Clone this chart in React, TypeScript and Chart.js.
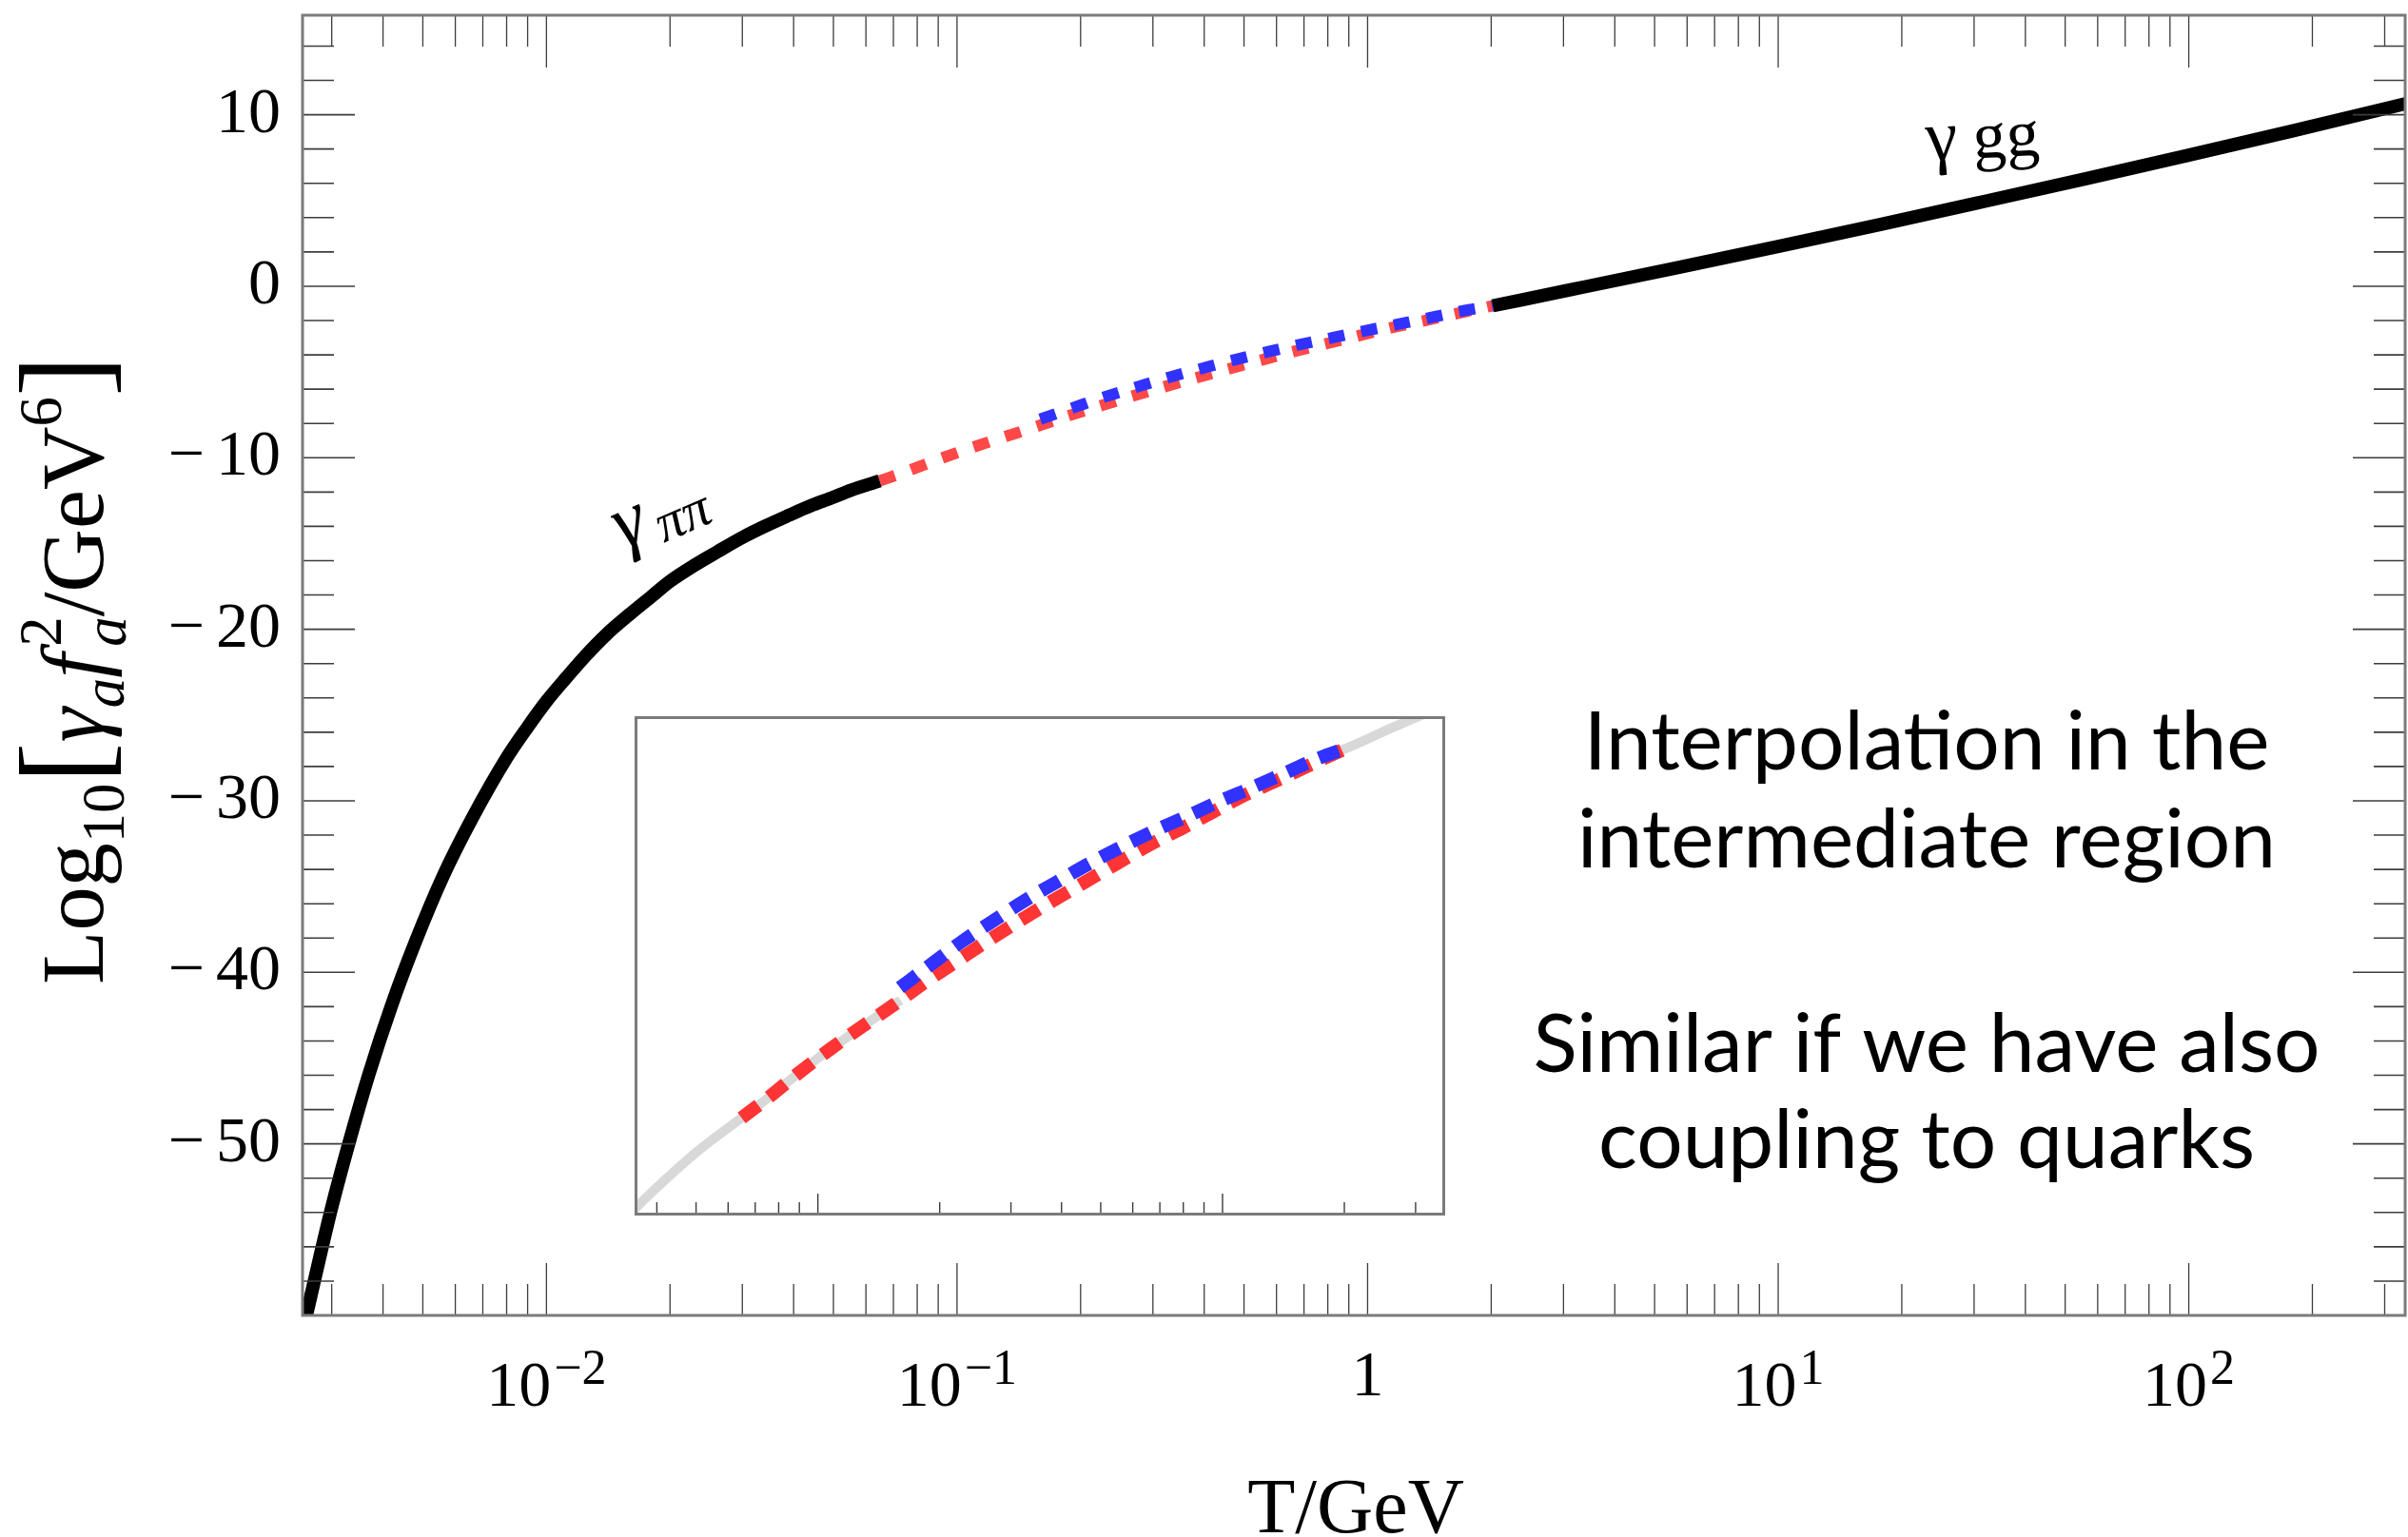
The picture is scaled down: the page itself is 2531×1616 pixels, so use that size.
import React, { useEffect, useRef } from "react";
import { Chart, registerables } from "chart.js";

Chart.register(...registerables);

const W = 2531;
const H = 1616;

// ---------------- data ----------------
// gamma_pipi branch (black, low T)
const gammaPiPiT = [0.00258, 0.0028, 0.003, 0.0033, 0.0037, 0.0042, 0.0048, 0.0056, 0.0066, 0.008, 0.009, 0.01, 0.0112, 0.0125, 0.014, 0.016, 0.018, 0.02, 0.023, 0.026, 0.03, 0.034, 0.039, 0.044, 0.05, 0.055, 0.0648];
const gammaPiPiY = [-60.4, -56.7, -53.7, -50.0, -45.9, -41.9, -38.2, -34.4, -31.0, -27.5, -25.7, -24.2, -22.8, -21.5, -20.3, -19.1, -18.1, -17.2, -16.25, -15.5, -14.65, -14.0, -13.35, -12.8, -12.3, -11.9, -11.35];

// gamma_gg branch (black, high T)
const gammaGGT = [2.018, 3.16, 5.62, 10, 17.8, 31.6, 56.2, 100, 178, 345];
const gammaGGY = [-1.14, -0.18, 1.06, 2.32, 3.61, 4.93, 6.27, 7.64, 9.04, 10.7];

// interpolation 1 (red dashed)
const redT = [0.0648, 0.0753, 0.0899, 0.1073, 0.1282, 0.1552, 0.1853, 0.2212, 0.2643, 0.3198, 0.3819, 0.4561, 0.5446, 0.6592, 0.7996, 0.9419, 1.14, 1.361, 1.671, 2.018];
const redY = [-11.35, -10.8, -10.1, -9.45, -8.84, -8.2, -7.58, -7.01, -6.44, -5.86, -5.34, -4.84, -4.34, -3.81, -3.33, -2.91, -2.42, -2.03, -1.56, -1.14];

// interpolation 2 (blue dashed)
const blueT = [0.1595, 0.1905, 0.2275, 0.2753, 0.3286, 0.3925, 0.4688, 0.5674, 0.6776, 0.8199, 0.979, 1.185, 1.415, 1.713, 2.018];
const blueY = [-7.75, -7.11, -6.47, -5.86, -5.31, -4.81, -4.32, -3.84, -3.42, -3.01, -2.61, -2.22, -1.84, -1.43, -1.14];

// inset: grey reference curves
const insetGrayLowT = [0.03, 0.034, 0.0398, 0.0501, 0.0648, 0.0753, 0.0899, 0.1073, 0.1282, 0.1552, 0.16];
const insetGrayLowY = [-14.7, -14.05, -13.3, -12.3, -11.35, -10.8, -10.1, -9.45, -8.84, -8.2, -8.1];
const insetGrayHighT = [1.9, 2.018, 2.6, 3.16, 3.7];
const insetGrayHighY = [-1.25, -1.14, -0.59, -0.18, 0.15];

// axes
const X_MIN = 0.002547;
const X_MAX = 336.5;
const Y_MIN = -60;
const Y_MAX = 15.8;
const yTickValues = [10, 0, -10, -20, -30, -40, -50];
const xTickValues = [0.01, 0.1, 1, 10, 100];
const xTickBase = ["10", "10", "1", "10", "10"];
const xTickExp = ["\u22122", "\u22121", "", "1", "2"];
const xAxisTitle = "T/GeV";
const annotationLines = ["Interpolation in the", "intermediate region", "Similar if we have also", "coupling to quarks"];

const INSET_X_MIN = 0.03524;
const INSET_X_MAX = 3.55;
const INSET_Y_MIN = -14.05;
const INSET_Y_MAX = -0.25;

// ---------------- layout / style ----------------
const SERIF = "'Liberation Serif', 'Times New Roman', serif";
const SANS = "Lato, 'Open Sans', sans-serif";
const PLOT = { left: 318, top: 16, right: 2528, bottom: 1383 };
const INSET = { left: 667, top: 753, width: 852, height: 525 };
const RED = "#ff4848";
const BLUE = "#3232ff";

function pts(xs: number[], ys: number[]) {
  return xs.map((x, i) => ({ x, y: ys[i] }));
}

type Piece = { t: string; s: number; dy: number; it?: boolean; pad?: number; stack?: Piece[] };

const yTitlePieces: Piece[] = [
  { t: "Log", s: 1, dy: 0 },
  { t: "10", s: 0.68, dy: -0.24 },
  { t: "[", s: 1.4, dy: -0.02 },
  { t: "\u03b3", s: 1, dy: 0, it: true },
  { t: "a", s: 0.68, dy: -0.24, it: true },
  { t: "f", s: 1, dy: 0, it: true, pad: 0.08 },
  { t: "", s: 0.68, dy: 0, stack: [{ t: "2", s: 0.68, dy: 0.48 }, { t: "a", s: 0.68, dy: -0.26, it: true }] },
  { t: "/GeV", s: 1, dy: 0 },
  { t: "6", s: 0.68, dy: 0.48 },
  { t: "]", s: 1.4, dy: -0.02 },
];

function pieceFont(p: Piece, B: number) {
  return `${p.it ? "italic " : ""}${(p.s * B).toFixed(2)}px ${SERIF}`;
}

function pieceWidth(ctx: CanvasRenderingContext2D, p: Piece, B: number): number {
  if (p.stack) {
    return Math.max(...p.stack.map((q) => pieceWidth(ctx, q, B)));
  }
  ctx.font = pieceFont(p, B);
  return ctx.measureText(p.t).width + (p.pad || 0) * B;
}

function drawRich(ctx: CanvasRenderingContext2D, pieces: Piece[], B: number, x0: number, y0: number) {
  let x = x0;
  for (const p of pieces) {
    if (p.stack) {
      for (const q of p.stack) {
        ctx.font = pieceFont(q, B);
        ctx.fillText(q.t, x, y0 - q.dy * B);
      }
      x += pieceWidth(ctx, p, B);
    } else {
      ctx.font = pieceFont(p, B);
      ctx.fillText(p.t, x, y0 - p.dy * B);
      x += pieceWidth(ctx, p, B);
    }
  }
}

function line(ctx: CanvasRenderingContext2D, x1: number, y1: number, x2: number, y2: number) {
  ctx.beginPath();
  ctx.moveTo(x1, y1);
  ctx.lineTo(x2, y2);
  ctx.stroke();
}

const mainDecor = {
  id: "mainDecor",
  afterDatasetsDraw(chart: any) {
    const ctx: CanvasRenderingContext2D = chart.ctx;
    const { left, right, top, bottom } = chart.chartArea;
    const xs = chart.scales.x;
    const ys = chart.scales.y;
    ctx.save();
    ctx.strokeStyle = "#3c3c3c";
    ctx.lineWidth = 1.6;
    for (let v = -58; v <= 14; v += 2) {
      const major = v % 10 === 0;
      const len = major ? 55 : 33;
      const py = ys.getPixelForValue(v);
      line(ctx, left, py, left + len, py);
      line(ctx, right, py, right - len, py);
    }
    ctx.lineWidth = 1.3;
    for (let d = -3; d <= 2; d++) {
      for (let k = 1; k <= 9; k++) {
        const v = k * Math.pow(10, d);
        if (v < X_MIN || v > X_MAX) continue;
        const len = k === 1 ? 55 : 33;
        const px = xs.getPixelForValue(v);
        line(ctx, px, bottom, px, bottom - len);
        line(ctx, px, top, px, top + len);
      }
    }
    ctx.strokeStyle = "#7b7b7b";
    ctx.lineWidth = 3;
    ctx.strokeRect(left, top, right - left, bottom - top);
    ctx.restore();
  },
  afterDraw(chart: any) {
    const ctx: CanvasRenderingContext2D = chart.ctx;
    const xs = chart.scales.x;
    const ys = chart.scales.y;
    ctx.save();
    ctx.fillStyle = "#000";
    ctx.textBaseline = "alphabetic";

    // y tick labels
    const yFont = `68px ${SERIF}`;
    for (const v of yTickValues) {
      const py = ys.getPixelForValue(v) + 18;
      ctx.font = yFont;
      ctx.textAlign = "right";
      const num = String(Math.abs(v));
      ctx.fillText(num, 295, py);
      if (v < 0) {
        const w = ctx.measureText(num).width;
        ctx.fillText("\u2212", 295 - w - 12, py);
      }
    }

    // x tick labels
    ctx.textAlign = "left";
    xTickValues.forEach((v, i) => {
      const px = xs.getPixelForValue(v);
      const base = xTickBase[i];
      const exp = xTickExp[i];
      ctx.font = `68px ${SERIF}`;
      const wb = ctx.measureText(base).width;
      ctx.font = `52px ${SERIF}`;
      const we = exp ? ctx.measureText(exp).width : 0;
      const gap = exp ? 3 : 0;
      const total = wb + gap + we;
      const x0 = px - total / 2;
      const by = exp ? 1478 : 1467;
      ctx.font = `68px ${SERIF}`;
      ctx.fillText(base, x0, by);
      if (exp) {
        ctx.font = `52px ${SERIF}`;
        ctx.fillText(exp, x0 + wb + gap, by - 23);
      }
    });

    // x axis title
    ctx.font = `82px ${SERIF}`;
    ctx.textAlign = "center";
    ctx.fillText(xAxisTitle, 1425, 1611);

    // y axis title (rotated rich text)
    ctx.textAlign = "left";
    const natB = 86;
    const natW = yTitlePieces.reduce((s, p) => s + pieceWidth(ctx, p, natB), 0);
    const B = (natB * 661) / natW;
    const tw = yTitlePieces.reduce((s, p) => s + pieceWidth(ctx, p, B), 0);
    ctx.save();
    ctx.translate(108, 704.5);
    ctx.rotate(-Math.PI / 2);
    drawRich(ctx, yTitlePieces, B, -tw / 2, 0);
    ctx.restore();

    // curve labels
    ctx.save();
    ctx.translate(655, 578);
    ctx.rotate((-23 * Math.PI) / 180);
    ctx.font = `italic 82px ${SERIF}`;
    ctx.fillText("\u03b3", 0, 0);
    const gw = ctx.measureText("\u03b3").width;
    ctx.font = `italic 58px ${SERIF}`;
    ctx.fillText("\u03c0\u03c0", gw + 10, 10);
    ctx.restore();

    ctx.save();
    ctx.translate(2025, 169);
    ctx.rotate((-3 * Math.PI) / 180);
    ctx.font = `76px ${SERIF}`;
    ctx.fillText("\u03b3", 0, 0);
    const gw2 = ctx.measureText("\u03b3").width;
    ctx.font = `70px ${SERIF}`;
    ctx.fillText("gg", gw2 + 16, 0);
    ctx.restore();

    // annotations
    const targets = [726, 735, 820, 691];
    ctx.font = `100px ${SANS}`;
    let sumW = 0;
    annotationLines.forEach((t) => (sumW += ctx.measureText(t).width));
    const aSize = (100 * targets.reduce((a, b) => a + b, 0)) / sumW;
    ctx.font = `${aSize.toFixed(2)}px ${SANS}`;
    ctx.textAlign = "center";
    const baselines = [809, 912, 1127, 1228];
    annotationLines.forEach((t, i) => ctx.fillText(t, 2025, baselines[i]));
    ctx.restore();
  },
};

const insetDecor = {
  id: "insetDecor",
  afterDatasetsDraw(chart: any) {
    const ctx: CanvasRenderingContext2D = chart.ctx;
    const xs = chart.scales.x;
    const w = chart.width;
    const h = chart.height;
    ctx.save();
    ctx.strokeStyle = "#3c3c3c";
    ctx.lineWidth = 1.4;
    for (let d = -2; d <= 0; d++) {
      for (let k = 1; k <= 9; k++) {
        const v = k * Math.pow(10, d);
        if (v < INSET_X_MIN || v > INSET_X_MAX) continue;
        const len = k === 1 ? 21 : 12;
        const px = xs.getPixelForValue(v);
        line(ctx, px, h - 2, px, h - 2 - len);
      }
    }
    ctx.strokeStyle = "#7b7b7b";
    ctx.lineWidth = 3;
    ctx.strokeRect(1.5, 1.5, w - 3, h - 3);
    ctx.restore();
  },
};

export default function App() {
  const mainRef = useRef<HTMLCanvasElement>(null);
  const insetRef = useRef<HTMLCanvasElement>(null);

  useEffect(() => {
    const main = new Chart(mainRef.current as HTMLCanvasElement, {
      type: "line",
      data: {
        datasets: [
          {
            label: "gamma_pipi",
            data: pts(gammaPiPiT, gammaPiPiY),
            borderColor: "#000",
            borderWidth: 14,
            pointRadius: 0,
            cubicInterpolationMode: "monotone",
            borderCapStyle: "butt",
            borderJoinStyle: "round",
            order: 0,
          },
          {
            label: "gamma_gg",
            data: pts(gammaGGT, gammaGGY),
            borderColor: "#000",
            borderWidth: 14,
            pointRadius: 0,
            cubicInterpolationMode: "monotone",
            borderCapStyle: "butt",
            borderJoinStyle: "round",
            order: 0,
          },
          {
            label: "interp2",
            data: pts(blueT, blueY),
            borderColor: BLUE,
            borderWidth: 12,
            borderDash: [17, 18],
            pointRadius: 0,
            cubicInterpolationMode: "monotone",
            borderCapStyle: "butt",
            order: 1,
          },
          {
            label: "interp1",
            data: pts(redT, redY),
            borderColor: RED,
            borderWidth: 12,
            borderDash: [17, 18],
            pointRadius: 0,
            cubicInterpolationMode: "monotone",
            borderCapStyle: "butt",
            order: 2,
          },
        ],
      },
      options: {
        animation: false,
        responsive: false,
        devicePixelRatio: 1,
        events: [],
        layout: { padding: { left: PLOT.left, top: PLOT.top, right: W - PLOT.right, bottom: H - PLOT.bottom } },
        plugins: { legend: { display: false }, tooltip: { enabled: false } },
        scales: {
          x: { type: "logarithmic", min: X_MIN, max: X_MAX, display: false },
          y: { type: "linear", min: Y_MIN, max: Y_MAX, display: false },
        },
      },
      plugins: [mainDecor],
    } as any);

    const inset = new Chart(insetRef.current as HTMLCanvasElement, {
      type: "line",
      data: {
        datasets: [
          {
            label: "interp2",
            data: pts(blueT, blueY),
            borderColor: BLUE,
            borderWidth: 14,
            borderDash: [22, 14],
            pointRadius: 0,
            cubicInterpolationMode: "monotone",
            borderCapStyle: "butt",
            order: 0,
          },
          {
            label: "interp1",
            data: pts(redT, redY),
            borderColor: "#ff3434",
            borderWidth: 14,
            borderDash: [22, 14],
            pointRadius: 0,
            cubicInterpolationMode: "monotone",
            borderCapStyle: "butt",
            order: 1,
          },
          {
            label: "ref_low",
            data: pts(insetGrayLowT, insetGrayLowY),
            borderColor: "#d8d8d8",
            borderWidth: 10,
            pointRadius: 0,
            cubicInterpolationMode: "monotone",
            order: 2,
          },
          {
            label: "ref_high",
            data: pts(insetGrayHighT, insetGrayHighY),
            borderColor: "#d8d8d8",
            borderWidth: 10,
            pointRadius: 0,
            cubicInterpolationMode: "monotone",
            order: 2,
          },
        ],
      },
      options: {
        animation: false,
        responsive: false,
        devicePixelRatio: 1,
        events: [],
        layout: { padding: 0 },
        plugins: { legend: { display: false }, tooltip: { enabled: false } },
        scales: {
          x: { type: "logarithmic", min: INSET_X_MIN, max: INSET_X_MAX, display: false },
          y: { type: "linear", min: INSET_Y_MIN, max: INSET_Y_MAX, display: false },
        },
      },
      plugins: [insetDecor],
    } as any);

    return () => {
      main.destroy();
      inset.destroy();
    };
  }, []);

  return (
    <div style={{ position: "absolute", left: 0, top: 0, width: W, height: H, background: "#fff", overflow: "hidden" }}>
      <canvas ref={mainRef} width={W} height={H} style={{ position: "absolute", left: 0, top: 0, width: W, height: H }} />
      <canvas
        ref={insetRef}
        width={INSET.width}
        height={INSET.height}
        style={{ position: "absolute", left: INSET.left, top: INSET.top, width: INSET.width, height: INSET.height, background: "#fff" }}
      />
    </div>
  );
}
